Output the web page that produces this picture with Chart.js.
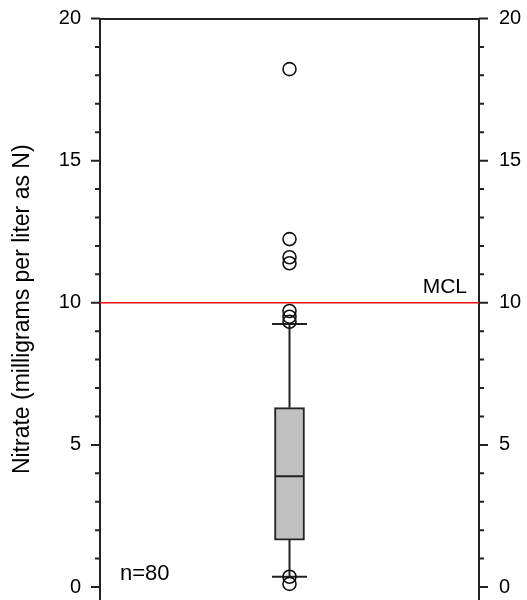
<!DOCTYPE html>
<html>
<head>
<meta charset="utf-8">
<script src="https://cdn.jsdelivr.net/npm/chart.js@4.4.1/dist/chart.umd.min.js"></script>
<style>
  body { margin: 0; background: #fff; }
  #wrap { width: 527px; height: 600px; position: relative; }
</style>
</head>
<body>
<div id="wrap"><canvas id="myChart"></canvas></div>
<script>
// box statistics (mg/L as N)
const boxCenter = 0.5;
const boxQ1Q3 = [1.65, 6.31];
const median = 3.9;
const whiskers = [0.36, 9.25];
const outliers = [18.22, 12.24, 11.6, 11.39, 9.71, 9.51, 9.33, 0.36, 0.11];
const mclValue = 10;
const sampleLabel = 'n=80';
const majorTicks = [0, 5, 10, 15, 20];
const minorTicks = [1, 2, 3, 4, 6, 7, 8, 9, 11, 12, 13, 14, 16, 17, 18, 19];
const yTitle = 'Nitrate (milligrams per liter as N)';

const axisColor = '#222';
const fontFamily = 'Arial, "Liberation Sans", sans-serif';
Chart.defaults.font.family = fontFamily;
Chart.defaults.font.size = 20;
Chart.defaults.color = '#000';

const fixWidth = w => s => {
    s.width = w;
    s.paddingTop = 0;
    s.paddingBottom = 0;
};

const extras = {
    id: 'extras',
    afterDraw(chart) {
        const ctx = chart.ctx;
        const yl = chart.scales.y, yr = chart.scales.y2, xs = chart.scales.x;
        ctx.save();
        ctx.strokeStyle = axisColor;
        ctx.lineWidth = 2;
        const drawTick = (v, len) => {
            const py = yl.getPixelForValue(v);
            ctx.beginPath();
            ctx.moveTo(yl.right - len, py);
            ctx.lineTo(yl.right, py);
            ctx.moveTo(yr.left, py);
            ctx.lineTo(yr.left + len, py);
            ctx.stroke();
        };
        majorTicks.forEach(v => drawTick(v, 9));
        minorTicks.forEach(v => drawTick(v, 5));

        ctx.fillStyle = '#000';
        ctx.textBaseline = 'alphabetic';
        ctx.font = '21px ' + fontFamily;
        ctx.textAlign = 'right';
        ctx.fillText('MCL', xs.right - 12, yl.getPixelForValue(mclValue) - 10);
        ctx.font = '22px ' + fontFamily;
        ctx.textAlign = 'left';
        ctx.fillText(sampleLabel, xs.left + 20, yl.getPixelForValue(0) - 7);
        ctx.restore();
    }
};

const ctx = document.getElementById('myChart').getContext('2d');
new Chart(ctx, {
    data: {
        datasets: [
            {
                type: 'scatter',
                data: outliers.map(v => ({ x: boxCenter, y: v })),
                pointStyle: 'circle',
                pointRadius: 6.5,
                backgroundColor: 'rgba(0,0,0,0)',
                borderColor: '#111',
                borderWidth: 1.6,
                order: 0
            },
            {
                type: 'scatter',
                data: [{ x: boxCenter, y: median }],
                pointStyle: 'line',
                pointRadius: 14,
                borderColor: axisColor,
                borderWidth: 2,
                order: 1
            },
            {
                type: 'scatter',
                data: whiskers.map(v => ({ x: boxCenter, y: v })),
                pointStyle: 'line',
                pointRadius: 17.5,
                borderColor: axisColor,
                borderWidth: 2,
                order: 1
            },
            {
                type: 'line',
                data: [{ x: boxCenter, y: boxQ1Q3[1] }, { x: boxCenter, y: whiskers[1] }],
                borderColor: axisColor,
                borderWidth: 2,
                pointRadius: 0,
                order: 2
            },
            {
                type: 'line',
                data: [{ x: boxCenter, y: whiskers[0] }, { x: boxCenter, y: boxQ1Q3[0] }],
                borderColor: axisColor,
                borderWidth: 2,
                pointRadius: 0,
                order: 2
            },
            {
                type: 'bar',
                data: [{ x: boxCenter, y: boxQ1Q3 }],
                backgroundColor: '#c0c0c0',
                borderColor: axisColor,
                borderWidth: 2,
                borderSkipped: false,
                barThickness: 30,
                order: 3
            },
            {
                type: 'line',
                data: [{ x: 0, y: mclValue }, { x: 1, y: mclValue }],
                borderColor: '#ee1111',
                borderWidth: 1.5,
                pointRadius: 0,
                order: 4
            }
        ]
    },
    options: {
        responsive: true,
        maintainAspectRatio: false,
        animation: false,
        layout: { autoPadding: false, padding: { top: 18.5, right: 0, bottom: 0, left: 0 } },
        plugins: {
            legend: { display: false },
            tooltip: { enabled: false }
        },
        scales: {
            x: {
                type: 'linear',
                position: 'top',
                min: 0,
                max: 1,
                offset: false,
                ticks: { display: false },
                grid: { drawOnChartArea: false, drawTicks: false },
                border: { display: true, color: axisColor, width: 2 },
                afterFit: s => { s.height = 0; s.paddingLeft = 0; s.paddingRight = 0; }
            },
            y: {
                position: 'left',
                min: -0.457,
                max: 20,
                afterBuildTicks: s => { s.ticks = majorTicks.map(v => ({ value: v })); },
                ticks: { padding: 19, font: { size: 20 } },
                grid: { drawOnChartArea: false, drawTicks: false },
                border: { color: axisColor, width: 2 },
                title: {
                    display: true,
                    text: yTitle,
                    font: { size: 23 },
                    padding: { top: 9, bottom: 0 }
                },
                afterFit: fixWidth(100)
            },
            y2: {
                position: 'right',
                min: -0.457,
                max: 20,
                afterBuildTicks: s => { s.ticks = majorTicks.map(v => ({ value: v })); },
                ticks: { padding: 20, font: { size: 20 } },
                grid: { drawOnChartArea: false, drawTicks: false },
                border: { color: axisColor, width: 2 },
                afterFit: fixWidth(48)
            }
        }
    },
    plugins: [extras]
});
</script>
</body>
</html>
